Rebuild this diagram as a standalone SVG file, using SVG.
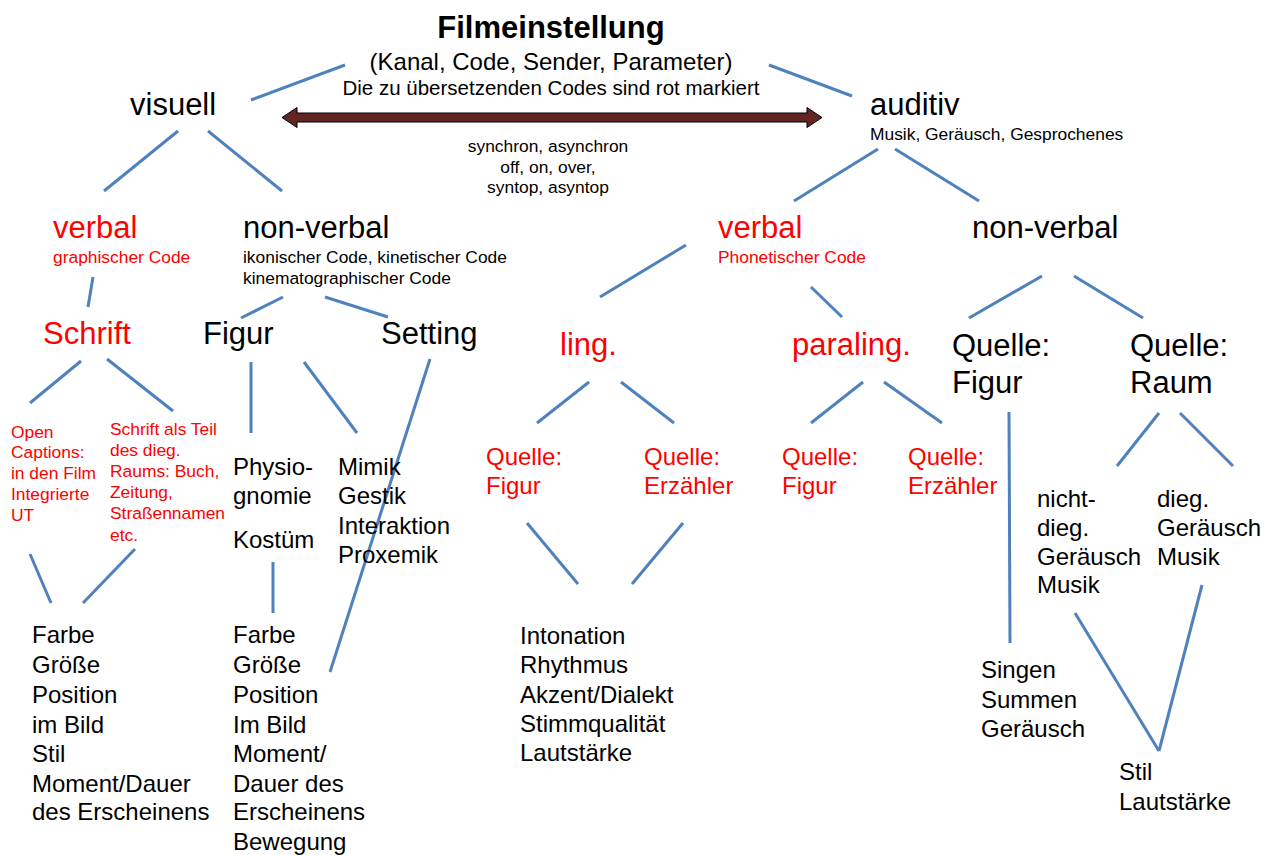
<svg xmlns="http://www.w3.org/2000/svg" width="1264" height="855" viewBox="0 0 1264 855">
<style>
text{font-family:"Liberation Sans",Arial,sans-serif;fill:#000}
.r{fill:#FF0000}
.big{font-size:31px}
.mid{font-size:24px}
.sm{font-size:17.4px}
.b{font-weight:bold}
.c{text-anchor:middle}
.ln{stroke:#4F81BD;stroke-width:3;fill:none}
</style>
<rect width="1264" height="855" fill="#fff"/>
<g id="connectors">
<line class="ln" x1="251" y1="100" x2="345" y2="65"/>
<line class="ln" x1="769" y1="65" x2="852" y2="96"/>
<line class="ln" x1="178" y1="131" x2="104" y2="191"/>
<line class="ln" x1="208" y1="131" x2="282" y2="191"/>
<line class="ln" x1="878" y1="149" x2="794" y2="201"/>
<line class="ln" x1="895" y1="149" x2="979" y2="201"/>
<line class="ln" x1="93" y1="277" x2="88" y2="307"/>
<line class="ln" x1="283" y1="297" x2="241" y2="318"/>
<line class="ln" x1="325" y1="297" x2="388" y2="317"/>
<line class="ln" x1="81" y1="361" x2="30" y2="403"/>
<line class="ln" x1="107" y1="359" x2="173" y2="411"/>
<line class="ln" x1="251" y1="362" x2="251" y2="433"/>
<line class="ln" x1="304" y1="362" x2="357" y2="433"/>
<line class="ln" x1="430" y1="359" x2="330" y2="672"/>
<line class="ln" x1="273" y1="562" x2="273" y2="613"/>
<line class="ln" x1="30" y1="554" x2="51" y2="603"/>
<line class="ln" x1="135" y1="549" x2="83" y2="603"/>
<line class="ln" x1="686" y1="245" x2="600" y2="297"/>
<line class="ln" x1="811" y1="287" x2="842" y2="317"/>
<line class="ln" x1="589" y1="382" x2="537" y2="423"/>
<line class="ln" x1="621" y1="382" x2="674" y2="423"/>
<line class="ln" x1="863" y1="382" x2="811" y2="423"/>
<line class="ln" x1="884" y1="382" x2="942" y2="423"/>
<line class="ln" x1="527" y1="523" x2="578" y2="584"/>
<line class="ln" x1="683" y1="523" x2="632" y2="584"/>
<line class="ln" x1="1042" y1="276" x2="969" y2="318"/>
<line class="ln" x1="1074" y1="276" x2="1143" y2="318"/>
<line class="ln" x1="1009" y1="412" x2="1010" y2="643"/>
<line class="ln" x1="1159" y1="413" x2="1117" y2="466"/>
<line class="ln" x1="1180" y1="413" x2="1233" y2="466"/>
<line class="ln" x1="1075" y1="613" x2="1159" y2="751"/>
<line class="ln" x1="1202" y1="585" x2="1159" y2="751"/>
<path d="M282,117.5 L297,107.5 L297,113 L807,113 L807,107.5 L822,117.5 L807,127.5 L807,122 L297,122 L297,127.5 Z" fill="#632523" stroke="#000" stroke-width="1"/>
</g>
<g id="sync-label">
<text class="sm c" x="548" y="152">synchron, asynchron</text>
<text class="sm c" x="548" y="173">off, on, over,</text>
<text class="sm c" x="548" y="193">syntop, asyntop</text>
</g>
<g id="title">
<text class="b c" x="551" y="38" font-size="31">Filmeinstellung</text>
<text class="c" x="551" y="70" font-size="24">(Kanal, Code, Sender, Parameter)</text>
<text class="c" x="551" y="95" font-size="20.5">Die zu übersetzenden Codes sind rot markiert</text>
</g>
<g id="visuell"><text class="big" x="130" y="115">visuell</text></g>
<g id="auditiv">
<text class="big" x="870" y="115">auditiv</text>
<text class="sm" x="870" y="140">Musik, Geräusch, Gesprochenes</text>
</g>
<g id="v-verbal">
<text class="big r" x="53" y="238">verbal</text>
<text class="sm r" x="53" y="263">graphischer Code</text>
</g>
<g id="v-nonverbal">
<text class="big" x="243" y="238">non-verbal</text>
<text class="sm" x="243" y="263">ikonischer Code, kinetischer Code</text>
<text class="sm" x="243" y="284">kinematographischer Code</text>
</g>
<g id="schrift"><text class="big r" x="43" y="344">Schrift</text></g>
<g id="figur"><text class="big" x="203" y="344">Figur</text></g>
<g id="setting"><text class="big" x="381" y="344">Setting</text></g>
<g id="open-captions" class="sm">
<text class="sm r" x="11" y="438">Open</text>
<text class="sm r" x="11" y="458">Captions:</text>
<text class="sm r" x="11" y="479">in den Film</text>
<text class="sm r" x="11" y="500">Integrierte</text>
<text class="sm r" x="11" y="521">UT</text>
</g>
<g id="schrift-dieg">
<text class="sm r" x="110" y="435">Schrift als Teil</text>
<text class="sm r" x="110" y="456">des dieg.</text>
<text class="sm r" x="110" y="477">Raums: Buch,</text>
<text class="sm r" x="110" y="498">Zeitung,</text>
<text class="sm r" x="110" y="519">Straßennamen</text>
<text class="sm r" x="110" y="541">etc.</text>
</g>
<g id="physio">
<text class="mid" x="233" y="475">Physio-</text>
<text class="mid" x="233" y="504">gnomie</text>
</g>
<g id="kostuem"><text class="mid" x="233" y="548">Kostüm</text></g>
<g id="mimik">
<text class="mid" x="338" y="475">Mimik</text>
<text class="mid" x="338" y="504">Gestik</text>
<text class="mid" x="338" y="534">Interaktion</text>
<text class="mid" x="338" y="563">Proxemik</text>
</g>
<g id="schrift-params">
<text class="mid" x="32" y="643">Farbe</text>
<text class="mid" x="32" y="673">Größe</text>
<text class="mid" x="32" y="703">Position</text>
<text class="mid" x="32" y="733">im Bild</text>
<text class="mid" x="32" y="762">Stil</text>
<text class="mid" x="32" y="792">Moment/Dauer</text>
<text class="mid" x="32" y="820">des Erscheinens</text>
</g>
<g id="figur-params">
<text class="mid" x="233" y="643">Farbe</text>
<text class="mid" x="233" y="673">Größe</text>
<text class="mid" x="233" y="703">Position</text>
<text class="mid" x="233" y="733">Im Bild</text>
<text class="mid" x="233" y="762">Moment/</text>
<text class="mid" x="233" y="792">Dauer des</text>
<text class="mid" x="233" y="820">Erscheinens</text>
<text class="mid" x="233" y="850">Bewegung</text>
</g>
<g id="a-verbal">
<text class="big r" x="718" y="238">verbal</text>
<text class="sm r" x="718" y="263">Phonetischer Code</text>
</g>
<g id="a-nonverbal"><text class="big" x="972" y="238">non-verbal</text></g>
<g id="ling"><text class="big r" x="560" y="355">ling.</text></g>
<g id="paraling"><text class="big r" x="792" y="355">paraling.</text></g>
<g id="ling-figur">
<text class="mid r" x="486" y="465">Quelle:</text>
<text class="mid r" x="486" y="494">Figur</text>
</g>
<g id="ling-erzaehler">
<text class="mid r" x="644" y="465">Quelle:</text>
<text class="mid r" x="644" y="494">Erzähler</text>
</g>
<g id="paraling-figur">
<text class="mid r" x="782" y="465">Quelle:</text>
<text class="mid r" x="782" y="494">Figur</text>
</g>
<g id="paraling-erzaehler">
<text class="mid r" x="908" y="465">Quelle:</text>
<text class="mid r" x="908" y="494">Erzähler</text>
</g>
<g id="para-params">
<text class="mid" x="520" y="644">Intonation</text>
<text class="mid" x="520" y="673">Rhythmus</text>
<text class="mid" x="520" y="703">Akzent/Dialekt</text>
<text class="mid" x="520" y="732">Stimmqualität</text>
<text class="mid" x="520" y="761">Lautstärke</text>
</g>
<g id="quelle-figur">
<text class="big" x="952" y="356">Quelle:</text>
<text class="big" x="952" y="393">Figur</text>
</g>
<g id="quelle-raum">
<text class="big" x="1130" y="356">Quelle:</text>
<text class="big" x="1130" y="393">Raum</text>
</g>
<g id="nicht-dieg">
<text class="mid" x="1037" y="507">nicht-</text>
<text class="mid" x="1037" y="536">dieg.</text>
<text class="mid" x="1037" y="565">Geräusch</text>
<text class="mid" x="1037" y="593">Musik</text>
</g>
<g id="dieg">
<text class="mid" x="1157" y="507">dieg.</text>
<text class="mid" x="1157" y="536">Geräusch</text>
<text class="mid" x="1157" y="565">Musik</text>
</g>
<g id="singen">
<text class="mid" x="981" y="678">Singen</text>
<text class="mid" x="981" y="708">Summen</text>
<text class="mid" x="981" y="737">Geräusch</text>
</g>
<g id="stil">
<text class="mid" x="1119" y="780">Stil</text>
<text class="mid" x="1119" y="810">Lautstärke</text>
</g>
</svg>
